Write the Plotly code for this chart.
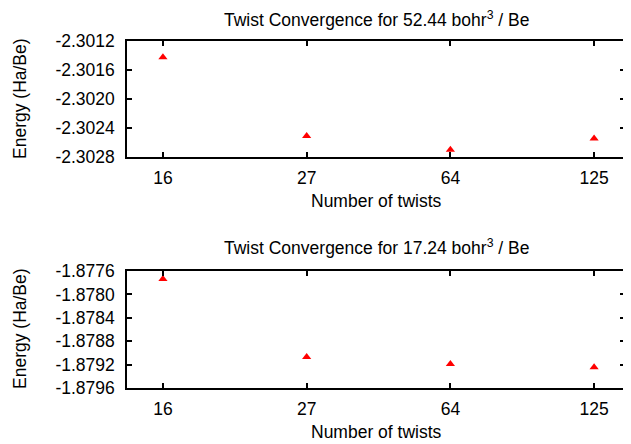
import plotly.graph_objects as go
from plotly.subplots import make_subplots

twists = ["16", "27", "64", "125"]
energy_52 = [-2.301425, -2.30251, -2.3027, -2.302545]
energy_17 = [-1.877737, -1.87907, -1.87919, -1.879246]
yticks_52 = [-2.3012, -2.3016, -2.3020, -2.3024, -2.3028]
yticks_17 = [-1.8776, -1.8780, -1.8784, -1.8788, -1.8792, -1.8796]
titles = ["Twist Convergence for 52.44 bohr<sup>3</sup> / Be",
          "Twist Convergence for 17.24 bohr<sup>3</sup> / Be"]

FONT = "Liberation Sans, Arial, sans-serif"
FS = 17.5
OFF = 8  # default page body margin
LW = 1.5

fig = make_subplots(rows=2, cols=1, vertical_spacing=0.0)
for i, (ys, ticks, rng) in enumerate([
        (energy_52, yticks_52, [-2.3028, -2.3012]),
        (energy_17, yticks_17, [-1.8796, -1.8776])], start=1):
    fig.add_trace(go.Scatter(x=twists, y=ys, mode="markers",
                             marker=dict(symbol="triangle-up", size=8, color="#ff0000",
                                         line=dict(width=0)),
                             showlegend=False), row=i, col=1)
    fig.update_yaxes(range=rng, tickvals=ticks,
                     ticktext=[f"{t:.4f}" for t in ticks],
                     ticks="inside", ticklen=5, tickcolor="black", tickwidth=LW,
                     showline=True, linecolor="black", linewidth=LW, mirror="ticks",
                     showgrid=False, zeroline=False, ticklabelstandoff=7,
                     tickfont=dict(family=FONT, size=FS, color="black"),
                     row=i, col=1)
    fig.update_xaxes(type="category", categoryorder="array", categoryarray=twists,
                     range=[-0.25, 3.215],
                     ticks="inside", ticklen=5, tickcolor="black", tickwidth=LW,
                     showline=True, linecolor="black", linewidth=LW, mirror="ticks",
                     showgrid=False, zeroline=False, ticklabelstandoff=4,
                     tickfont=dict(family=FONT, size=FS, color="black"),
                     row=i, col=1)

H = 347.0
W = 498.0
fig.update_layout(yaxis=dict(domain=[1 - 116 / H, 1]),
                  yaxis2=dict(domain=[0, (347 - 230) / H]))

def py(p):
    return (388 - p) / H

tf = dict(family=FONT, size=FS, color="black")
common = dict(xref="paper", yref="paper", showarrow=False, font=tf,
              xanchor="center", yanchor="middle")
ann = [
    dict(text=titles[0], x=0.5, y=py(18.5), **common),
    dict(text=titles[1], x=0.5, y=py(247), **common),
    dict(text="Number of twists", x=0.5, y=py(201), **common),
    dict(text="Number of twists", x=0.5, y=py(432), **common),
    dict(text="Energy (Ha/Be)", x=(20 - 127) / W, y=py(99), textangle=-90, **common),
    dict(text="Energy (Ha/Be)", x=(20 - 127) / W, y=py(329), textangle=-90, **common),
]

fig.update_layout(width=631 - OFF, height=444 - OFF,
                  margin=dict(l=127 - OFF, r=6, t=41 - OFF, b=56, autoexpand=False),
                  paper_bgcolor="white", plot_bgcolor="white",
                  annotations=ann)

fig.write_html("out.html")
